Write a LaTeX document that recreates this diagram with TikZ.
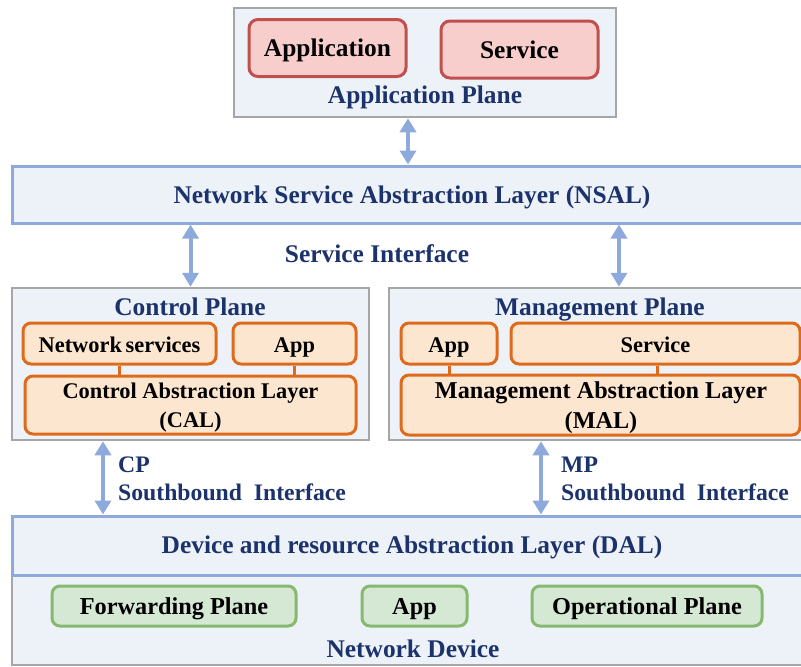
\documentclass[tikz,border=0pt]{standalone}
\usepackage{fontspec}
\setmainfont{Liberation Serif}
\usetikzlibrary{arrows.meta}

\definecolor{navy}{HTML}{1C326B}
\definecolor{planefill}{HTML}{EDF2F8}
\definecolor{planeline}{HTML}{A6A6A6}
\definecolor{layerline}{HTML}{8EA9DB}
\definecolor{redline}{HTML}{C0504D}
\definecolor{redfill}{HTML}{F8CECC}
\definecolor{orangeline}{HTML}{E06A1B}
\definecolor{orangefill}{HTML}{FCE6CF}
\definecolor{greenline}{HTML}{86B96E}
\definecolor{greenfill}{HTML}{D5E8D4}

\tikzset{
  big/.style={font=\bfseries\fontsize{25.4}{29}\selectfont},
  green/.style={font=\bfseries\fontsize{24.3}{28}\selectfont},
  side/.style={font=\bfseries\fontsize{23.7}{28}\selectfont},
  small/.style={font=\bfseries\fontsize{22.4}{28}\selectfont},
  mal/.style={font=\bfseries\fontsize{24.2}{29}\selectfont},
  plane/.style={draw=planeline, fill=planefill, line width=2.5pt, inner sep=0pt},
  layer/.style={draw=layerline, fill=planefill, line width=3pt, inner sep=0pt},
  redbox/.style={draw=redline, fill=redfill, line width=3pt, rounded corners=9pt, inner sep=0pt, big,
    text height=17.4pt, text depth=0pt},
  orangebox/.style={draw=orangeline, fill=orangefill, line width=3pt, rounded corners=8pt, inner sep=0pt, small,
    text height=18pt, text depth=0pt},
  greenbox/.style={draw=greenline, fill=greenfill, line width=3pt, rounded corners=8pt, inner sep=0pt, green,
    text height=16.1pt, text depth=0pt},
  title/.style={text=navy, inner sep=0pt, big, anchor=base},
  boxtext/.style={inner sep=0pt, anchor=base},
  sidelabel/.style={text=navy, inner sep=0pt, side, anchor=base west},
  link/.style={draw=orangeline, line width=3pt},
  biarrow/.style={draw=layerline, line width=4pt,
    {Triangle[length=14pt,width=16pt]}-{Triangle[length=14pt,width=16pt]}},
}

\begin{document}
\begin{tikzpicture}[x=1pt, y=-1pt]
  \clip (0,0) rectangle (801,667);
  \useasboundingbox (0,0) rectangle (801,667);

  % application plane
  \node[plane, minimum width=382pt, minimum height=109pt] (ap) at (425,62.5) {};
  \node[redbox, minimum width=157pt, minimum height=57pt] (appl) at (327.5,48) {Application};
  \node[redbox, minimum width=157pt, minimum height=57pt] (serv) at (519.5,49.5) {Service};
  \node[title] (aptitle) at (425,103.5) {Application Plane};

  % network service abstraction layer
  \node[layer, minimum width=800pt, minimum height=57pt] (nsal) at (412,194.5) {};
  \node[title] (nsaltitle) at (412,203.5) {Network Service Abstraction Layer (NSAL)};
  \node[title] (sif) at (377,262) {Service Interface};

  % control plane
  \node[plane, minimum width=357pt, minimum height=152pt] (cp) at (190.5,364) {};
  \node[title] (cptitle) at (190,315) {Control Plane};
  \node[orangebox, minimum width=193pt, minimum height=41pt] (ns) at (119.5,343.5) {Network\,services};
  \node[orangebox, minimum width=123pt, minimum height=41pt] (capp) at (294.5,343.5) {App};
  \node[orangebox, minimum width=331pt, minimum height=58pt] (cal) at (190.5,405) {};
  \node[boxtext, small] (cal1) at (190.5,398) {Control Abstraction Layer};
  \node[boxtext, small] (cal2) at (190.5,427) {(CAL)};

  % management plane
  \node[plane, minimum width=423pt, minimum height=152pt] (mp) at (600.5,364) {};
  \node[title] (mptitle) at (600,315) {Management Plane};
  \node[orangebox, minimum width=96pt, minimum height=41pt] (mapp) at (449,343.5) {App};
  \node[orangebox, minimum width=289pt, minimum height=41pt] (msrv) at (655.5,343.5) {Service};
  \node[orangebox, minimum width=399pt, minimum height=60pt] (mal) at (600.5,405) {};
  \node[boxtext, mal] (mal1) at (601,398) {Management Abstraction Layer};
  \node[boxtext, mal] (mal2) at (601,428) {(MAL)};

  % network device with its abstraction layer
  \node[plane, minimum width=800pt, minimum height=90pt] (dev) at (412,620) {};
  \node[layer, minimum width=800pt, minimum height=59pt] (dal) at (412,545.5) {};
  \node[title] (daltitle) at (412,553) {Device and resource Abstraction Layer (DAL)};
  \node[greenbox, minimum width=244pt, minimum height=40pt] (fwd) at (174,606) {Forwarding Plane};
  \node[greenbox, minimum width=105pt, minimum height=40pt] (dapp) at (414.5,606) {App};
  \node[greenbox, minimum width=230pt, minimum height=40pt] (op) at (647,606) {Operational Plane};
  \node[title] (devtitle) at (413,657) {Network Device};

  % southbound interface labels
  \node[sidelabel] (cpl) at (118,472) {CP};
  \node[sidelabel] (cpsb) at (118,500) {Southbound\ \ Interface};
  \node[sidelabel] (mpl) at (561,472) {MP};
  \node[sidelabel] (mpsb) at (561,500) {Southbound\ \ Interface};

  % links inside the planes
  \draw[link] (ns.south) -- (ns.south |- cal.north);
  \draw[link] (capp.south) -- (capp.south |- cal.north);
  \draw[link] (mapp.south) -- (mapp.south |- mal.north);
  \coordinate (xms) at (657,0);
  \draw[link] (msrv.south -| xms) -- (mal.north -| xms);

  % interface arrows
  \coordinate (xa) at (408,0);
  \coordinate (xm) at (619,0);
  \coordinate (xcs) at (103,0);
  \coordinate (xms2) at (541,0);
  \draw[biarrow] (ap.south -| xa) -- (nsal.north -| xa);
  \draw[biarrow] (nsal.south -| cp.north) -- (cp.north);
  \draw[biarrow] (nsal.south -| xm) -- (mp.north -| xm);
  \draw[biarrow] (cp.south -| xcs) -- (dal.north -| xcs);
  \draw[biarrow] (mp.south -| xms2) -- (dal.north -| xms2);
\end{tikzpicture}
\end{document}
